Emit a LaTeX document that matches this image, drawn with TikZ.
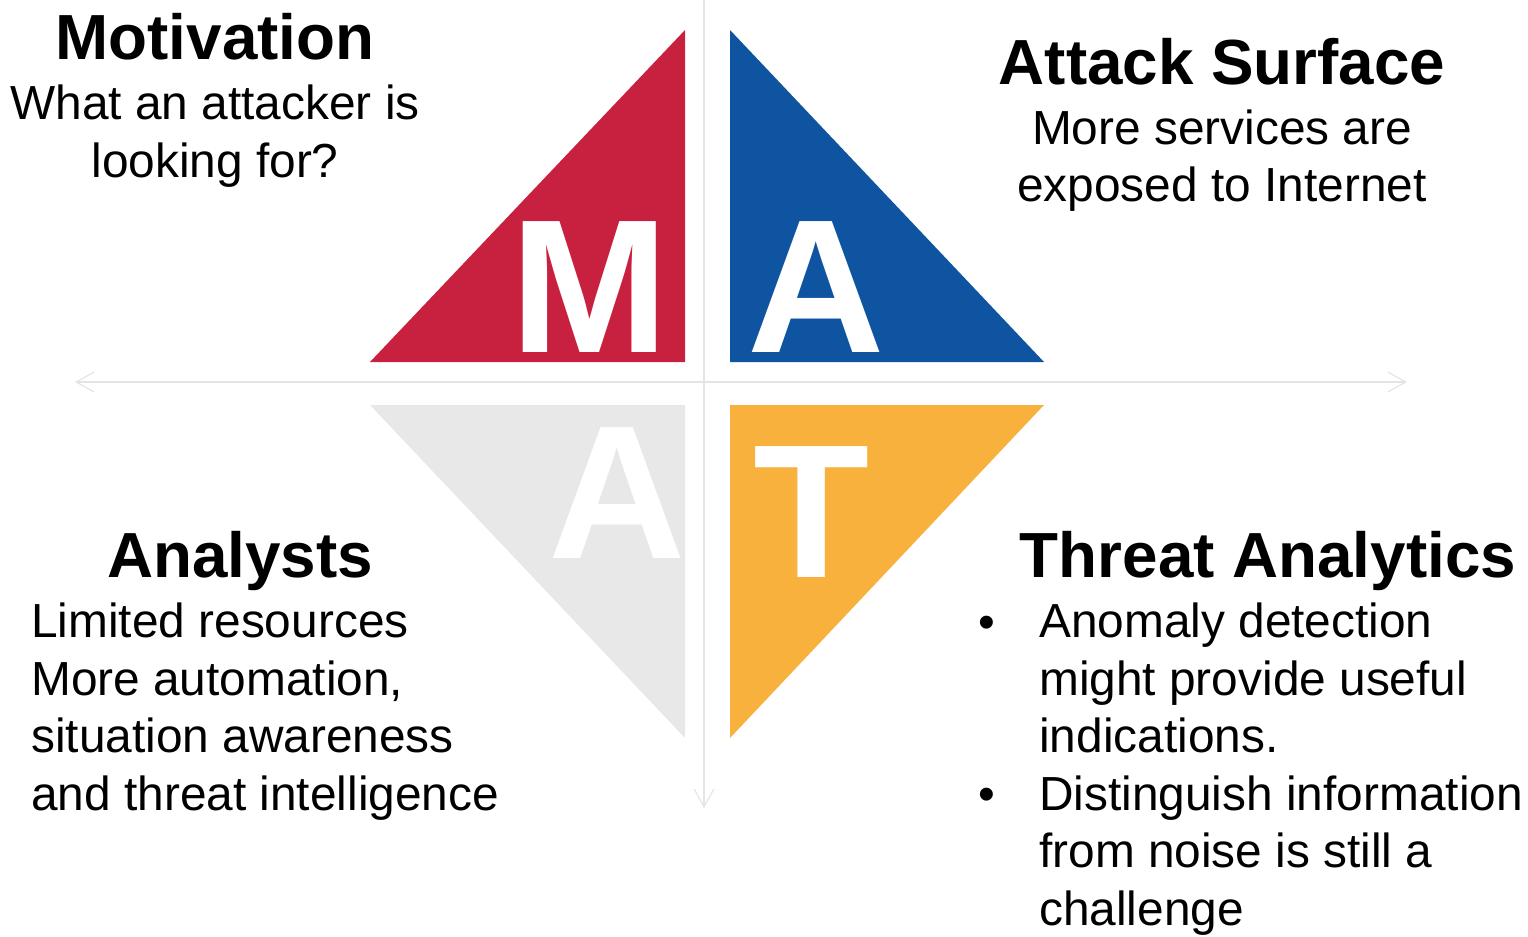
\documentclass[tikz,border=0pt]{standalone}
\usepackage{fontspec}
\setmainfont{Liberation Sans}
\usetikzlibrary{arrows.meta}

\definecolor{mred}{HTML}{C8203F}
\definecolor{ablue}{HTML}{0E54A0}
\definecolor{agray}{HTML}{E8E8E8}
\definecolor{torange}{HTML}{F8B13C}
\definecolor{axisgray}{HTML}{E4E4E4}

\begin{document}
\begin{tikzpicture}[x=1bp,y=-1bp]
\tikzset{
% styles for the four quadrants
big letter/.style={text=white,font=\fontsize{191}{191}\selectfont\bfseries,inner sep=0,anchor=base},
title/.style={font=\fontsize{64}{70}\selectfont\bfseries,inner sep=0,anchor=base},
body/.style={font=\fontsize{48}{58}\selectfont,inner sep=0,anchor=base},
axis/.style={draw=axisgray,line width=1.2,{Straight Barb[length=18,width=20]}-{Straight Barb[length=18,width=20]}}
}
\useasboundingbox (0,0) rectangle (1528,936);

% axes
\coordinate (left) at (75,382);
\coordinate (right) at (1407,382);
\coordinate (top) at (704,0);
\coordinate (bottom) at (704,808);
\draw[axis] (left) -- (right);
\draw[draw=axisgray,line width=1.2,-{Straight Barb[length=18,width=20]}] (top) -- (bottom);

% triangles
\fill[mred] (370,362) -- (685,362) -- (685,30) -- cycle;
\fill[ablue] (730,30) -- (730,362) -- (1044,362) -- cycle;
\fill[agray] (370,405) -- (685,405) -- (685,738) -- cycle;
\fill[torange] (730,405) -- (1044,405) -- (730,738) -- cycle;

% letters
\node[big letter] (M) at (590,352) {M};
\node[big letter] (A1) at (816,352) {A};
\node[big letter] (A2) at (617,558) {A};
\node[big letter] (T) at (812,577) {T};

% Motivation
\node[title] (mot) at (215,59) {Motivation};
\node[body] (mot1) at (215,119) {What an attacker is};
\node[body] (mot2) at (215,177) {looking for?};

% Attack Surface
\node[title] (att) at (1222,84) {Attack Surface};
\node[body] (att1) at (1222,144) {More services are};
\node[body] (att2) at (1222,201) {exposed to Internet};

% Analysts
\node[title] (ana) at (240,577) {Analysts};
\foreach \t [count=\i] in {Limited resources,{More automation,},situation awareness,and threat intelligence}
  \node[body,anchor=base west] (ana\i) at (31,580+57.5*\i) {\t};

% Threat Analytics
\node[title] (thr) at (1268,577) {Threat Analytics};
\foreach \t [count=\i] in {Anomaly detection,might provide useful,indications.,Distinguish information,from noise is still a,challenge}
  \node[body,anchor=base west] (thr\i) at (1039,580+57.5*\i) {\t};
\node[body] (b1) at (987,638) {•};
\node[body] (b2) at (987,810) {•};
\end{tikzpicture}
\end{document}
